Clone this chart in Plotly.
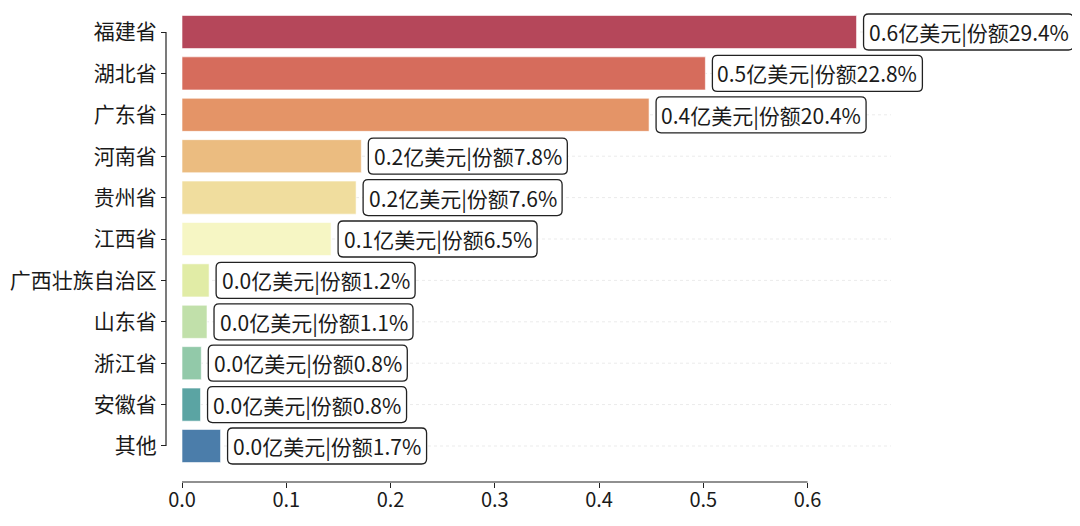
import plotly.graph_objects as go

categories = ["福建省", "湖北省", "广东省", "河南省", "贵州省", "江西省",
              "广西壮族自治区", "山东省", "浙江省", "安徽省", "其他"]
values = [0.647, 0.502, 0.448, 0.172, 0.167, 0.143, 0.026, 0.024, 0.0185, 0.0178, 0.037]
shares = [29.4, 22.8, 20.4, 7.8, 7.6, 6.5, 1.2, 1.1, 0.8, 0.8, 1.7]
colors = ["#b5475a", "#d66c5c", "#e49467", "#ebbc80", "#f0dd9e", "#f6f6c4",
          "#e1eca6", "#c1e0aa", "#92c9a9", "#5ba4a3", "#4b7daa"]

labels = [f"{v:.1f}亿美元|份额{s:.1f}%" for v, s in zip(values, shares)]

FONT = "Noto Sans CJK SC, Noto Sans, sans-serif"
TXT = "#1a1a1a"
FS = 21
X_LIMIT = 0.68  # visual extent of the gridlines

fig = go.Figure()
fig.add_trace(go.Bar(
    x=values, y=categories, orientation="h",
    marker=dict(color=colors, line=dict(color="rgba(255,255,255,0.6)", width=1)),
    width=0.8, hoverinfo="skip",
))


def rounded_box(left, right, half_h, r):
    b, t = -half_h, half_h
    return (f"M {left + r},{b} L {right - r},{b} Q {right},{b} {right},{b + r} "
            f"L {right},{t - r} Q {right},{t} {right - r},{t} "
            f"L {left + r},{t} Q {left},{t} {left},{t - r} "
            f"L {left},{b + r} Q {left},{b} {left + r},{b} Z")


shapes = [
    dict(type="line", xref="paper", yref="y", x0=0, x1=0, y0=0, y1=len(categories) - 1,
         line=dict(color="#222222", width=1.2)),
    dict(type="line", xref="x", yref="paper", x0=0, x1=0.6, y0=0, y1=0,
         line=dict(color="#222222", width=1.2)),
]
for i in range(len(categories)):
    shapes.append(dict(type="line", xref="x", yref="y", x0=0, x1=X_LIMIT, y0=i, y1=i,
                       line=dict(color="#ebebeb", width=1, dash="dot"), layer="below"))

annotations = []
GAP = 7
for i, (v, s, t) in enumerate(zip(values, shares, labels)):
    ndig = len(str(int(s)))
    w = 199 + 11 * (ndig - 1)
    shapes.append(dict(
        type="path", xref="x", yref="y", xsizemode="pixel", ysizemode="pixel",
        xanchor=v, yanchor=i, path=rounded_box(GAP, GAP + w, 18, 5),
        fillcolor="white", line=dict(color="#222222", width=1.3), layer="above",
    ))
    annotations.append(dict(
        x=v, y=i, xref="x", yref="y", text=t, showarrow=False,
        xanchor="center", yanchor="middle", xshift=GAP + w / 2,
        font=dict(family=FONT, size=FS, color=TXT),
    ))

fig.update_layout(
    width=1080, height=526,
    margin=dict(l=158, r=0, t=0, b=52, autoexpand=False),
    plot_bgcolor="white", paper_bgcolor="white",
    showlegend=False,
    font=dict(family=FONT, size=FS, color=TXT),
    annotations=annotations,
    shapes=shapes,
    xaxis=dict(
        domain=[16 / 922, 1], range=[0, 906 / 1042.6], anchor="free", position=0,
        tickvals=[0, 0.1, 0.2, 0.3, 0.4, 0.5, 0.6],
        ticktext=["0.0", "0.1", "0.2", "0.3", "0.4", "0.5", "0.6"],
        ticks="outside", ticklen=5, tickwidth=1.2, tickcolor="#222222",
        showgrid=False, zeroline=False, showline=False,
        tickfont=dict(family=FONT, size=FS - 1, color=TXT),
        ticklabelstandoff=-5,
    ),
    yaxis=dict(
        domain=[12 / 474, 1], anchor="free", position=0,
        categoryorder="array", categoryarray=categories,
        range=[10.58, -0.58],
        ticks="outside", ticklen=5, tickwidth=1.2, tickcolor="#222222",
        showgrid=False, zeroline=False, showline=False,
        tickfont=dict(family=FONT, size=FS, color=TXT),
        ticklabelstandoff=0,
    ),
)

fig.write_html("out.html")
